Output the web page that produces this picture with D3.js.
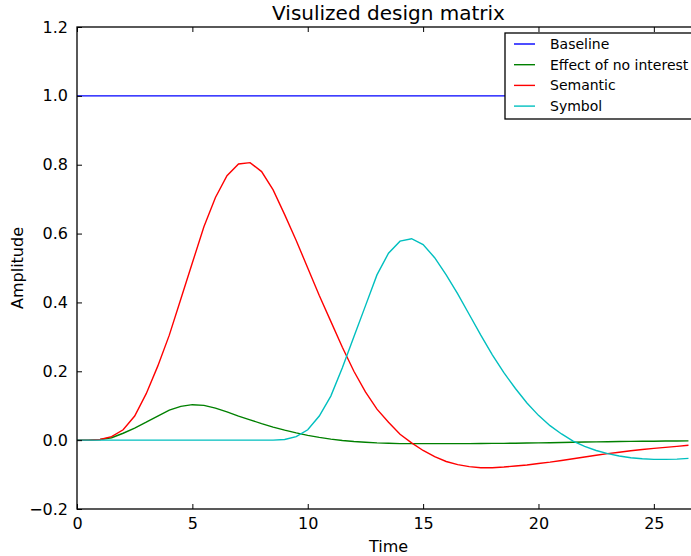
<!doctype html>
<html>

<head>
	<style>
		body { margin: 0; background: white; }
		text { font-family: "DejaVu Sans", sans-serif; fill: black; }
	</style>
</head>

<body>
	<div class="figure"></div>

	<script src="https://d3js.org/d3.v7.min.js"></script>
	<script>
		// время (с), шаг 0.5
		let times = [0, 0.5, 1, 1.5, 2, 2.5, 3, 3.5, 4, 4.5, 5, 5.5, 6, 6.5, 7, 7.5, 8, 8.5, 9, 9.5,
			10, 10.5, 11, 11.5, 12, 12.5, 13, 13.5, 14, 14.5, 15, 15.5, 16, 16.5, 17, 17.5, 18, 18.5, 19, 19.5,
			20, 20.5, 21, 21.5, 22, 22.5, 23, 23.5, 24, 24.5, 25, 25.5, 26, 26.5];

		let baseline = [1, 1, 1, 1, 1, 1, 1, 1, 1, 1, 1, 1, 1, 1, 1, 1, 1, 1, 1, 1,
			1, 1, 1, 1, 1, 1, 1, 1, 1, 1, 1, 1, 1, 1, 1, 1, 1, 1, 1, 1,
			1, 1, 1, 1, 1, 1, 1, 1, 1, 1, 1, 1, 1, 1];

		let noInterest = [0, 0, 0.002, 0.007, 0.02, 0.035, 0.052, 0.07, 0.087, 0.098, 0.103, 0.101, 0.093, 0.082, 0.07, 0.059, 0.048, 0.038, 0.029, 0.021,
			0.014, 0.008, 0.003, -0.001, -0.004, -0.006, -0.008, -0.009, -0.01, -0.01, -0.01, -0.01, -0.01, -0.01, -0.01, -0.0098, -0.0095, -0.0093, -0.009, -0.0085,
			-0.008, -0.0075, -0.007, -0.0063, -0.0055, -0.005, -0.0045, -0.004, -0.0035, -0.0032, -0.003, -0.0027, -0.0025, -0.002];

		let semantic = [0, 0, 0.002, 0.01, 0.03, 0.07, 0.135, 0.215, 0.305, 0.41, 0.515, 0.62, 0.705, 0.768, 0.802, 0.806, 0.78, 0.727, 0.655, 0.58,
			0.5, 0.42, 0.345, 0.27, 0.2, 0.14, 0.09, 0.052, 0.017, -0.008, -0.03, -0.048, -0.062, -0.071, -0.077, -0.08, -0.08, -0.078, -0.075, -0.072,
			-0.068, -0.064, -0.059, -0.054, -0.049, -0.044, -0.039, -0.035, -0.031, -0.027, -0.024, -0.021, -0.018, -0.015];

		let symbol = [0, 0, 0, 0, 0, 0, 0, 0, 0, 0, 0, 0, 0, 0, 0, 0, 0, 0, 0.002, 0.01,
			0.03, 0.07, 0.128, 0.21, 0.3, 0.39, 0.48, 0.543, 0.578, 0.585, 0.568, 0.53, 0.48, 0.425, 0.365, 0.305, 0.248, 0.196, 0.15, 0.108,
			0.072, 0.042, 0.018, -0.003, -0.018, -0.03, -0.039, -0.046, -0.051, -0.054, -0.056, -0.056, -0.055, -0.053];

		let seriesNames = ["Baseline", "Effect of no interest", "Semantic", "Symbol"];
		let seriesColors = ["#0000ff", "#008000", "#ff0000", "#00bfbf"];
		let seriesData = [baseline, noInterest, semantic, symbol];

		let xTicks = [0, 5, 10, 15, 20, 25];
		let yTicks = [-0.2, 0.0, 0.2, 0.4, 0.6, 0.8, 1.0, 1.2];

		let W = 691, H = 556;
		let mLeft = 77, mRight = 700, mTop = 27, mBottom = 509;

		let svg = d3.select(".figure")
			.append("svg")
			.attr("width", W)
			.attr("height", H)
			.style("display", "block");

		let x = d3.scaleLinear().domain([0, 27]).range([mLeft, mRight]);
		let y = d3.scaleLinear().domain([-0.2, 1.2]).range([mBottom, mTop]);

		svg.append("defs").append("clipPath").attr("id", "clip")
			.append("rect").attr("x", mLeft).attr("y", mTop)
			.attr("width", mRight - mLeft).attr("height", mBottom - mTop);

		// линии
		let line = d3.line()
			.x((d, i) => x(times[i]))
			.y(d => y(d));

		let g = svg.append("g").attr("clip-path", "url(#clip)");
		seriesData.forEach((s, k) => {
			g.append("path")
				.attr("d", line(s))
				.attr("fill", "none")
				.attr("stroke", seriesColors[k])
				.attr("stroke-width", 1.4);
		});

		// оси (тики внутрь)
		let fmt = d3.format(".1f");
		svg.append("g").attr("transform", `translate(0,${mBottom})`)
			.call(d3.axisBottom(x).tickValues(xTicks).tickSizeInner(-5).tickSizeOuter(0).tickPadding(9));
		svg.append("g").attr("transform", `translate(0,${mTop})`)
			.call(d3.axisTop(x).tickValues(xTicks).tickSizeInner(-5).tickSizeOuter(0).tickFormat(""));
		svg.append("g").attr("transform", `translate(${mLeft},0)`)
			.call(d3.axisLeft(y).tickValues(yTicks).tickSizeInner(-5).tickSizeOuter(0).tickPadding(9).tickFormat(fmt));
		svg.append("g").attr("transform", `translate(${mRight},0)`)
			.call(d3.axisRight(y).tickValues(yTicks).tickSizeInner(-5).tickSizeOuter(0).tickFormat(""));

		svg.selectAll(".domain").remove();
		svg.selectAll(".tick line").attr("stroke", "black").attr("stroke-width", 1);
		svg.selectAll(".tick text").style("font-size", "16px").style("font-family", "DejaVu Sans");

		svg.append("rect")
			.attr("x", mLeft).attr("y", mTop)
			.attr("width", mRight - mLeft).attr("height", mBottom - mTop)
			.attr("fill", "none").attr("stroke", "black").attr("stroke-width", 1.3);

		// подписи
		svg.append("text").attr("x", (mLeft + mRight) / 2).attr("y", 20)
			.attr("text-anchor", "middle").style("font-size", "20px")
			.text("Visulized design matrix");
		svg.append("text").attr("x", (mLeft + mRight) / 2).attr("y", 552)
			.attr("text-anchor", "middle").style("font-size", "16px")
			.text("Time");
		svg.append("text").attr("transform", `translate(23,${(mTop + mBottom) / 2}) rotate(-90)`)
			.attr("text-anchor", "middle").style("font-size", "16px")
			.text("Amplitude");

		// легенда
		let lg = svg.append("g");
		lg.append("rect").attr("x", 505).attr("y", 33).attr("width", 190).attr("height", 86)
			.attr("fill", "white").attr("stroke", "black").attr("stroke-width", 1.3);
		seriesNames.forEach((name, k) => {
			let yy = 44 + k * 20.7;
			lg.append("line").attr("x1", 514).attr("x2", 535).attr("y1", yy).attr("y2", yy)
				.attr("stroke", seriesColors[k]).attr("stroke-width", 1.4);
			lg.append("text").attr("x", 550).attr("y", yy).attr("dy", "0.36em")
				.style("font-size", "14px").text(name);
		});
	</script>

</body>

</html>
